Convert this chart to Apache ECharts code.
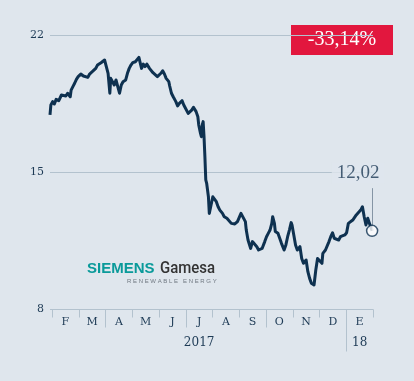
<!DOCTYPE html>
<html>
<head>
<meta charset="utf-8">
<script src="https://cdn.jsdelivr.net/npm/echarts@6/dist/echarts.min.js"></script>
<style>
  html, body { margin: 0; padding: 0; background: #dfe6ed; }
  #chart { width: 414px; height: 381px; }
</style>
</head>
<body>
<div id="chart"></div>
<script>
// ---- data ----
const dates = [
  '2017-01-30','2017-01-31','2017-02-02','2017-02-04','2017-02-06','2017-02-09','2017-02-12','2017-02-14','2017-02-17','2017-02-19',
  '2017-02-22','2017-02-23','2017-02-25','2017-02-27','2017-03-01','2017-03-03','2017-03-06','2017-03-09','2017-03-11','2017-03-14',
  '2017-03-16','2017-03-19','2017-03-21','2017-03-23','2017-03-25','2017-03-27','2017-03-29','2017-03-31','2017-04-02','2017-04-04',
  '2017-04-06','2017-04-08','2017-04-09','2017-04-11','2017-04-13','2017-04-15','2017-04-17','2017-04-19','2017-04-21','2017-04-23',
  '2017-04-26','2017-04-28','2017-04-30','2017-05-02','2017-05-04','2017-05-07','2017-05-09','2017-05-11','2017-05-14','2017-05-16',
  '2017-05-18','2017-05-20','2017-05-23','2017-05-25','2017-05-27','2017-05-29','2017-06-01','2017-06-03','2017-06-05','2017-06-07',
  '2017-06-09','2017-06-11','2017-06-14','2017-06-15','2017-06-17','2017-06-19','2017-06-22','2017-06-24','2017-06-26','2017-06-29',
  '2017-07-01','2017-07-03','2017-07-06','2017-07-08','2017-07-10','2017-07-12','2017-07-15','2017-07-17','2017-07-18','2017-07-20',
  '2017-07-21','2017-07-22','2017-07-23','2017-07-24','2017-07-25','2017-07-26','2017-07-27','2017-07-29','2017-07-30',
  '2017-08-01','2017-08-03','2017-08-05','2017-08-07','2017-08-09','2017-08-11','2017-08-14','2017-08-16','2017-08-19','2017-08-21',
  '2017-08-24','2017-08-26','2017-08-28','2017-08-31','2017-09-02','2017-09-04','2017-09-06','2017-09-09','2017-09-10','2017-09-12',
  '2017-09-15','2017-09-17','2017-09-19','2017-09-22','2017-09-24','2017-09-26','2017-09-28','2017-10-01','2017-10-03','2017-10-05',
  '2017-10-07','2017-10-09','2017-10-10','2017-10-12','2017-10-13','2017-10-16','2017-10-18','2017-10-20','2017-10-23','2017-10-25',
  '2017-10-27','2017-10-29','2017-10-31','2017-11-01','2017-11-03','2017-11-05','2017-11-07','2017-11-10','2017-11-12','2017-11-14',
  '2017-11-17','2017-11-19','2017-11-21','2017-11-23','2017-11-26','2017-11-28','2017-11-30','2017-12-02','2017-12-05','2017-12-06',
  '2017-12-09','2017-12-11','2017-12-13','2017-12-15','2017-12-17','2017-12-19','2017-12-21','2017-12-24','2017-12-26','2017-12-28',
  '2017-12-31','2018-01-02','2018-01-04','2018-01-06','2018-01-09','2018-01-11','2018-01-13','2018-01-15','2018-01-18','2018-01-20',
  '2018-01-22','2018-01-24','2018-01-26','2018-01-28','2018-01-31'
];
const prices = [
  17.94,18.45,18.62,18.5,18.74,18.67,18.96,19.05,18.91,19.05,
  18.87,19.21,19.39,19.56,19.76,19.9,20.03,19.93,19.98,19.86,
  20.03,20.15,20.07,20.32,20.49,20.41,20.61,20.54,20.75,20.41,
  20.07,19.05,19.81,19.64,19.47,19.73,19.39,19.05,19.47,19.64,
  19.73,20.07,20.32,20.49,20.61,20.66,20.71,20.88,20.32,20.54,
  20.41,20.54,20.32,20.41,20.1,20.15,19.9,19.93,20.07,20.2,
  20.03,19.81,19.64,19.42,19.05,18.87,18.62,18.4,18.53,18.67,
  18.45,18.36,18.02,17.94,18.19,18.33,18.11,17.85,17.43,17.0,
  16.83,17.43,17.6,16.83,15.81,14.62,14.45,13.76,12.91,
  13.34,13.76,13.85,13.51,13.25,13.08,12.91,12.74,12.66,12.57,
  12.4,12.49,12.37,12.49,12.4,12.91,12.83,12.49,12.06,11.55,
  11.12,11.47,11.55,11.21,11.04,10.95,11.12,11.47,11.72,11.89,
  12.06,12.4,12.74,12.4,11.98,11.89,11.64,11.38,11.04,11.3,
  11.72,12.06,12.44,12.32,11.81,11.3,11.04,11.21,10.61,10.36,
  10.53,9.93,9.59,9.34,9.25,10.02,10.61,10.53,10.36,10.87,
  11.04,11.12,11.47,11.72,11.92,11.64,11.72,11.55,11.72,11.64,
  11.81,11.92,12.4,12.32,12.57,12.66,12.83,12.91,13.08,13.25,
  12.74,12.32,12.66,12.4,12.02
];
const yTicks = [8, 15, 22];
const monthLabels = ['F','M','A','M','J','J','A','S','O','N','D','E'];
const yearLabels = ['','','','','','2017','','','','','','18'];
const changeLabel = '-33,14%';
const connectorTop = 14.2;

// ---- styles ----
const BG = '#dfe6ed';
const GRID = '#b3c2ce';
const INK = '#1d3a55';
const LINE = '#0e3150';
const RED = '#e2173e';

const lineData = dates.map((d, i) => [d, prices[i]]);
const lastDate = dates[dates.length - 1];
const lastVal = prices[prices.length - 1];

// month band geometry: Feb 1 2017 -> Feb 1 2018 spans 12 equal bands
const MONTH_L = 52, MONTH_W = 321, BAND = MONTH_W / 12;
const TOP = 35.5, H = 274;

const hiddenY = (gi) => ({ type: 'value', gridIndex: gi, min: 0, max: 1, show: false });

const chart = echarts.init(document.getElementById('chart'), null, { renderer: 'canvas' });
chart.setOption({
  backgroundColor: BG,
  animation: false,
  grid: [
    { left: 50, top: TOP, width: 323, height: H },
    { left: MONTH_L, top: TOP, width: MONTH_W, height: H },
    // quarter boundaries: month index 3 (Apr 1) .. 12 (Jan 1), Feb 1 = 1
    { left: MONTH_L + 2 * BAND, top: TOP, width: 9 * BAND, height: H },
    // year boundary at month index 12 (Jan 1 2018)
    { left: MONTH_L + 11 * BAND, top: TOP, width: 12 * BAND, height: H }
  ],
  xAxis: [
    { type: 'time', gridIndex: 0, min: '2017-01-30', max: '2018-02-01', show: false },
    {
      type: 'category', gridIndex: 1, position: 'bottom', data: monthLabels, boundaryGap: true,
      axisLine: { show: true, lineStyle: { color: GRID, width: 1 } },
      axisTick: { show: true, length: 8, interval: 0, lineStyle: { color: GRID } },
      axisLabel: { interval: 0, margin: 7, fontFamily: 'DejaVu Serif', fontSize: 11, color: INK }
    },
    {
      type: 'category', gridIndex: 1, position: 'bottom', data: yearLabels, boundaryGap: true,
      axisLine: { show: false }, axisTick: { show: false },
      axisLabel: { interval: 0, margin: 27, fontFamily: 'DejaVu Serif', fontSize: 12, color: INK }
    },
    {
      type: 'value', gridIndex: 2, position: 'bottom', min: 3, max: 12, interval: 3,
      axisLine: { show: false }, splitLine: { show: false }, axisLabel: { show: false },
      axisTick: { show: true, length: 18, lineStyle: { color: GRID } }
    },
    {
      type: 'value', gridIndex: 3, position: 'bottom', min: 12, max: 24, interval: 12,
      axisLine: { show: false }, splitLine: { show: false }, axisLabel: { show: false },
      axisTick: { show: true, length: 42, lineStyle: { color: GRID } }
    }
  ],
  yAxis: [
    {
      type: 'value', gridIndex: 0, min: yTicks[0], max: yTicks[yTicks.length - 1], interval: 7,
      axisLine: { show: false }, axisTick: { show: false },
      axisLabel: { margin: 6, fontFamily: 'DejaVu Serif', fontSize: 11, color: INK },
      splitLine: { show: true, lineStyle: { color: GRID, width: 1 } }
    },
    hiddenY(1), hiddenY(2), hiddenY(3)
  ],
  series: [
    {
      type: 'line', xAxisIndex: 0, yAxisIndex: 0, data: lineData,
      showSymbol: false, symbol: 'none',
      lineStyle: { color: LINE, width: 3, join: 'round' },
      z: 3,
      markLine: {
        silent: true, symbol: 'none', label: { show: false },
        lineStyle: { color: '#8595a5', width: 1, type: 'solid' },
        data: [[{ coord: [lastDate, lastVal] }, { coord: [lastDate, connectorTop] }]]
      }
    },
    {
      type: 'scatter', xAxisIndex: 0, yAxisIndex: 0, data: [[lastDate, lastVal]],
      symbol: 'circle', symbolSize: 11, z: 5,
      itemStyle: { color: '#ffffff', borderColor: LINE, borderWidth: 1.5 },
      label: {
        show: true, position: 'top', distance: 41, offset: [-14, 0],
        formatter: (p) => p.value[1].toFixed(2).replace('.', ','),
        fontFamily: 'Liberation Serif', fontSize: 19, color: INK,
        backgroundColor: BG, padding: [1, 5]
      }
    }
  ],
  graphic: [
    {
      type: 'group', left: 291, top: 25,
      children: [
        { type: 'rect', shape: { x: 0, y: 0, width: 102, height: 30 }, style: { fill: RED } },
        { type: 'text', x: 51, y: 15, style: { text: changeLabel, fill: '#ffffff', font: '20px "Liberation Serif"', textAlign: 'center', textVerticalAlign: 'middle' } }
      ]
    },
    { type: 'text', x: 87, y: 269, style: { text: 'SIEMENS', fill: '#0a9a9a', font: 'bold 15px "Liberation Sans"', textVerticalAlign: 'middle' } },
    { type: 'text', x: 160, y: 269, scaleX: 0.88, style: { text: 'Gamesa', fill: '#333333', font: '500 17px Roboto', textVerticalAlign: 'middle' } },
    { type: 'text', x: 127, y: 281, style: { text: 'R E N E W A B L E   E N E R G Y', fill: '#6f7780', font: '6px "Liberation Sans"', textVerticalAlign: 'middle' } }
  ]
});
</script>
</body>
</html>
